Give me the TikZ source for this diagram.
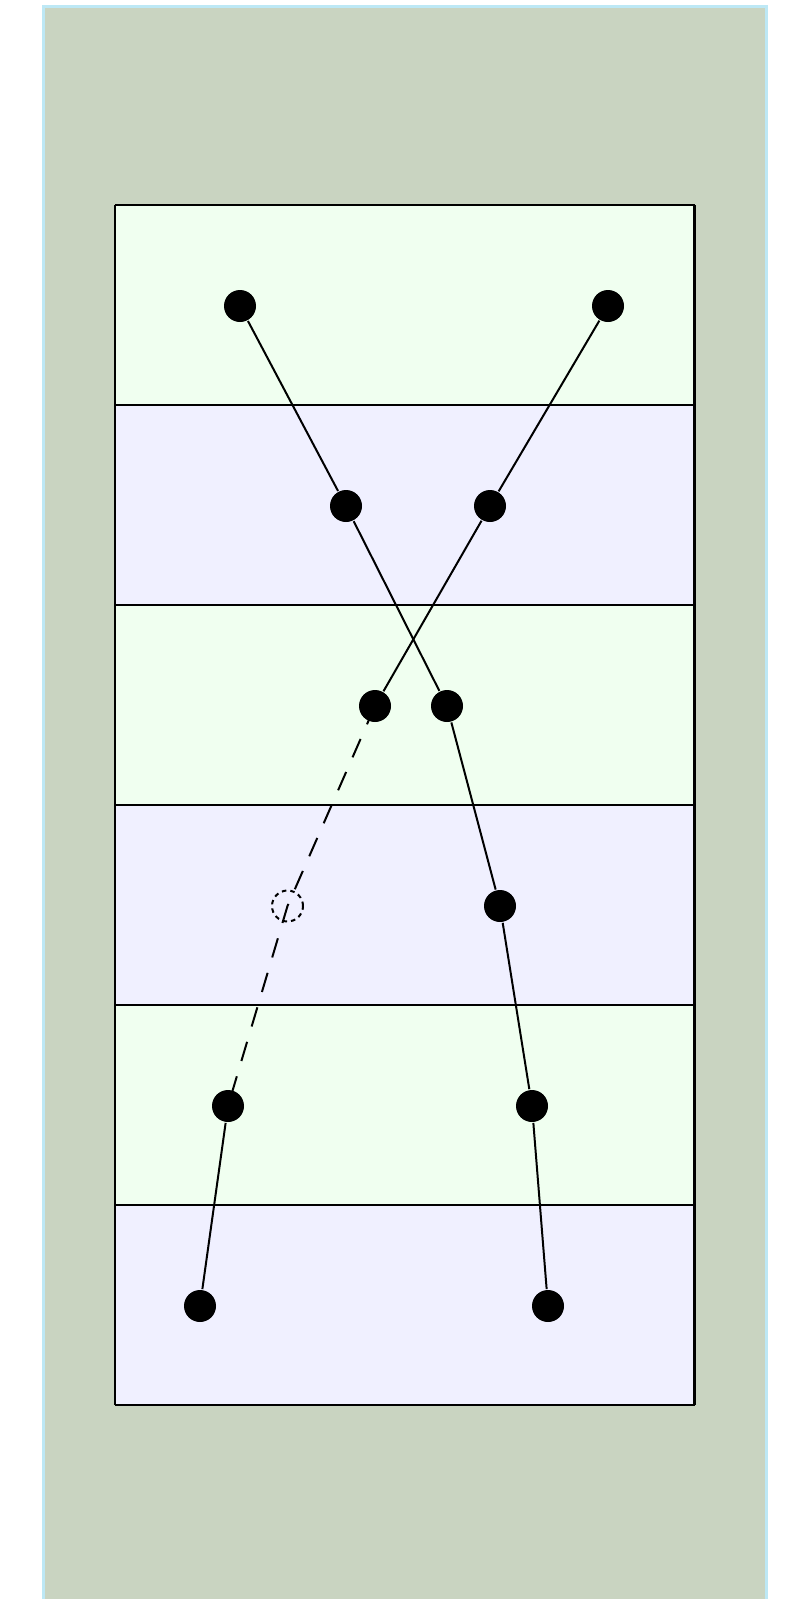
\documentclass[tikz,border=0pt]{standalone}
\usepackage{tikz}
\usetikzlibrary{positioning}
\definecolor{yard-bg}{HTML}{C9D4C1}
\definecolor{yard-rim}{HTML}{BDE8F5}
\definecolor{lane-green}{HTML}{F0FFF0}
\definecolor{lane-blue}{HTML}{F0F0FF}
\begin{document}
\begin{tikzpicture}[
    x=1pt, y=-1pt,
    line width=2pt
  ]

  % Styles
  \tikzset{
    stone/.style={circle, fill=black, inner sep=0pt, minimum size=32pt},
    ghost/.style={circle, draw, line width=2pt, dash pattern=on 4.5pt off 4pt, inner sep=0pt, minimum size=31pt},
    link/.style={draw, line width=2pt},
    gap/.style={link, dash pattern=on 20pt off 16pt}
  }

  \useasboundingbox (0,0) rectangle (785,1599);

  % Background panel
  \fill[yard-bg] (43.5,6.5) rectangle (766.5,1605);
  \draw[yard-rim, line width=3pt] (43.5,1605) -- (43.5,6.5) -- (766.5,6.5) -- (766.5,1605);

  % Lanes
  \foreach \i in {0,...,5} {
    \pgfmathsetmacro{\ytop}{205+200*\i}
    \ifodd\i
      \fill[lane-blue] (115,\ytop) rectangle (694.5,\ytop+200);
    \else
      \fill[lane-green] (115,\ytop) rectangle (694.5,\ytop+200);
    \fi
  }
  \foreach \i in {0,...,6}
    \draw[line width=2.5pt] (115,205+200*\i) -- (694.5,205+200*\i);
  \draw[line width=2.5pt] (115,205) -- (115,1405);
  \draw[line width=2.5pt] (694.5,205) -- (694.5,1405);

  % Stones
  \node (a1) [stone] at (240,306) {};
  \node (a2) [stone] at (346,506) {};
  \node (a3) [stone] at (447,706) {};
  \node (a4) [stone] at (500,906) {};
  \node (a5) [stone] at (532,1106) {};
  \node (a6) [stone] at (548,1306) {};

  \node (b1) [stone] at (608,306) {};
  \node (b2) [stone] at (490,506) {};
  \node (b3) [stone] at (375,706) {};
  \node (b4) [ghost] at (287.5,906) {};
  \node (b5) [stone] at (228,1106) {};
  \node (b6) [stone] at (200,1306) {};

  % Links
  \draw[link] (a1) -- (a2) -- (a3) -- (a4) -- (a5) -- (a6);
  \draw[link] (b1) -- (b2) -- (b3);
  \draw[gap] (b3.center) -- (b4.center) -- (b5.center);
  \draw[link] (b5) -- (b6);

\end{tikzpicture}
\end{document}
